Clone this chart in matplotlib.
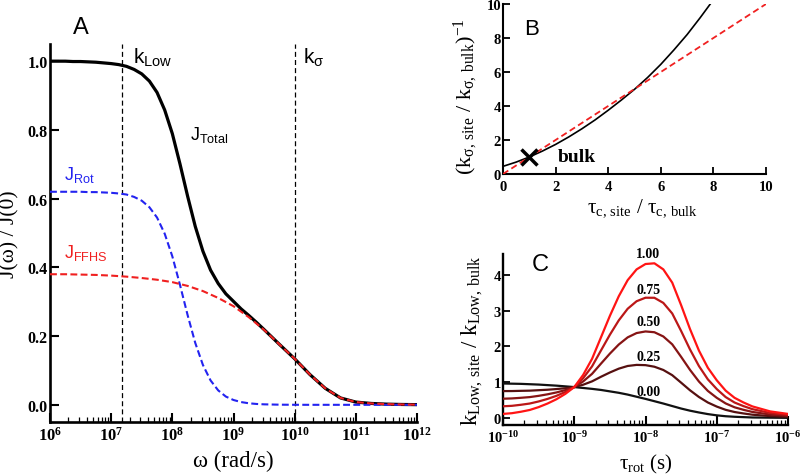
import matplotlib
matplotlib.use("Agg")
import matplotlib.pyplot as plt
import numpy as np
from matplotlib.ticker import FixedLocator, LogLocator, NullFormatter

plt.rcParams['font.family'] = ['Liberation Serif', 'DejaVu Serif']
plt.rcParams['font.weight'] = 'bold'
plt.rcParams['axes.labelweight'] = 'normal'
plt.rcParams['mathtext.fontset'] = 'custom'
plt.rcParams['mathtext.rm'] = 'Liberation Serif'
plt.rcParams['mathtext.it'] = 'Liberation Serif:italic'
plt.rcParams['mathtext.bf'] = 'Liberation Serif:bold'
plt.rcParams['mathtext.sf'] = 'Liberation Sans'

# ---------------- Panel A data ----------------
a_log_omega = [6.0, 6.125, 6.25, 6.375, 6.5, 6.625, 6.75, 6.875, 7.0, 7.125, 7.25, 7.375,
               7.5, 7.625, 7.75, 7.875, 8.0, 8.125, 8.25, 8.375, 8.5, 8.625, 8.75, 8.875,
               9.0, 9.125, 9.25, 9.375, 9.5, 9.75, 10.0, 10.25, 10.5, 10.75, 11.0, 11.25,
               11.5, 11.75, 12.0]
a_j_rot = [0.620, 0.620, 0.620, 0.620, 0.620, 0.619, 0.619, 0.618, 0.617, 0.615, 0.612, 0.605,
           0.594, 0.575, 0.545, 0.498, 0.432, 0.349, 0.261, 0.180, 0.116, 0.071, 0.042, 0.024,
           0.014, 0.008, 0.0045, 0.0025, 0.0014, 0.0004, 0.0001, 0.0, 0.0, 0.0, 0.0, 0.0,
           0.0, 0.0, 0.0]
a_j_total = [1.000, 1.000, 1.000, 0.999, 0.999, 0.998, 0.997, 0.995, 0.993, 0.990, 0.985, 0.976,
             0.963, 0.942, 0.909, 0.858, 0.789, 0.701, 0.607, 0.519, 0.447, 0.392, 0.353, 0.323,
             0.301, 0.279, 0.260, 0.240, 0.219, 0.176, 0.134, 0.088, 0.048, 0.020, 0.008, 0.004,
             0.002, 0.001, 0.0005]
a_log_omega_ffhs = [6.0, 6.25, 6.5, 6.75, 7.0, 7.25, 7.5, 7.75, 8.0, 8.25, 8.5, 8.75, 9.0,
                    9.25, 9.5, 9.75, 10.0, 10.25, 10.5, 10.75, 11.0, 11.25, 11.5, 11.75, 12.0]
a_j_ffhs = [0.380, 0.380, 0.379, 0.378, 0.376, 0.373, 0.369, 0.364, 0.357, 0.346, 0.331, 0.311,
            0.287, 0.255, 0.218, 0.176, 0.134, 0.088, 0.048, 0.020, 0.008, 0.004, 0.002, 0.001,
            0.0005]
a_k_low = 1.5e7
a_k_sigma = 1.0e10
a_yticks = [0.0, 0.2, 0.4, 0.6, 0.8, 1.0]
a_yticklabels = ['0.0', '0.2', '0.4', '0.6', '0.8', '1.0']

# ---------------- Panel B data ----------------
b_tau_ratio = [0.0, 0.5, 1.0, 1.5, 2.0, 2.5, 3.0, 3.5, 4.0, 4.5, 5.0, 5.5, 6.0, 6.5, 7.0, 7.5, 8.0]
b_k_inv = [0.45, 0.70, 1.00, 1.35, 1.74, 2.18, 2.66, 3.18, 3.75, 4.35, 4.98, 5.68, 6.45, 7.30,
           8.20, 9.20, 10.25]
b_line_x = [0.0, 10.0]
b_line_y = [0.0, 10.0]
b_bulk_x = [1.0]
b_bulk_y = [1.0]
b_ticks = [0, 2, 4, 6, 8, 10]

# ---------------- Panel C data ----------------
c_log_tau = [-10.0, -9.875, -9.75, -9.625, -9.5, -9.375, -9.25, -9.125, -9.0, -8.875, -8.75,
             -8.625, -8.5, -8.375, -8.25, -8.125, -8.0, -7.875, -7.75, -7.625, -7.5, -7.375,
             -7.25, -7.125, -7.0, -6.875, -6.75, -6.625, -6.5, -6.25, -6.0]
c_f000 = [0.96, 0.955, 0.95, 0.94, 0.93, 0.915, 0.90, 0.88, 0.86, 0.835, 0.81, 0.78, 0.74, 0.70,
          0.65, 0.59, 0.53, 0.465, 0.40, 0.33, 0.26, 0.20, 0.15, 0.105, 0.07, 0.045, 0.03, 0.02,
          0.01, 0.005, 0.0]
c_f025 = [0.748, 0.749, 0.755, 0.76, 0.773, 0.786, 0.805, 0.828, 0.86, 0.926, 1.02, 1.148, 1.268,
          1.375, 1.45, 1.48, 1.473, 1.429, 1.338, 1.193, 0.983, 0.77, 0.583, 0.429, 0.315, 0.224,
          0.163, 0.123, 0.088, 0.049, 0.028]
c_f050 = [0.535, 0.543, 0.56, 0.58, 0.615, 0.658, 0.71, 0.775, 0.86, 1.018, 1.23, 1.515, 1.795,
          2.05, 2.25, 2.37, 2.415, 2.393, 2.275, 2.055, 1.705, 1.34, 1.015, 0.753, 0.56, 0.403,
          0.295, 0.225, 0.165, 0.093, 0.055]
c_f075 = [0.323, 0.336, 0.365, 0.40, 0.458, 0.529, 0.615, 0.723, 0.86, 1.109, 1.44, 1.883, 2.323,
          2.725, 3.05, 3.26, 3.358, 3.356, 3.213, 2.918, 2.428, 1.91, 1.448, 1.076, 0.805, 0.581,
          0.428, 0.328, 0.243, 0.136, 0.083]
c_f100 = [0.11, 0.13, 0.17, 0.22, 0.30, 0.40, 0.52, 0.67, 0.86, 1.20, 1.65, 2.25, 2.85, 3.40,
          3.85, 4.15, 4.30, 4.32, 4.15, 3.78, 3.15, 2.48, 1.88, 1.40, 1.05, 0.76, 0.56, 0.43,
          0.32, 0.18, 0.11]
c_series = [c_f000, c_f025, c_f050, c_f075, c_f100]
c_labels = ['0.00', '0.25', '0.50', '0.75', '1.00']
c_colors = ['#111111', '#561010', '#861414', '#bb1717', '#ff1414']
c_label_y = [0.73, 1.71, 2.68, 3.58, 4.58]
c_yticks = [0, 1, 2, 3, 4]

# ---------------- Figure ----------------
fig = plt.figure(figsize=(8.0, 4.77), dpi=100)


def style_axes(ax, spine_lw):
    for s in ['top', 'right']:
        ax.spines[s].set_visible(False)
    for s in ['left', 'bottom']:
        ax.spines[s].set_linewidth(spine_lw)
    ax.tick_params(which='both', direction='in', top=False, right=False)


# ---- Panel A ----
axA = fig.add_axes([50 / 800, 1 - 423 / 477, 367 / 800, 378 / 477])
style_axes(axA, 1.9)
axA.set_xscale('log')
axA.set_xlim(1e6, 1e12)
axA.set_ylim(-0.05, 1.05)
omega = np.power(10.0, a_log_omega)
omega_ffhs = np.power(10.0, a_log_omega_ffhs)
axA.axvline(a_k_low, color='black', lw=0.9, ls=(0, (4, 2.5)), zorder=1)
axA.axvline(a_k_sigma, color='black', lw=0.9, ls=(0, (4, 2.5)), zorder=1)
axA.plot(omega, a_j_total, color='black', lw=2.3, zorder=3)
axA.plot(omega, a_j_rot, color='#2323f0', lw=1.5, ls=(0, (3.3, 1.6)), zorder=4)
axA.plot(omega_ffhs, a_j_ffhs, color='#f02020', lw=1.5, ls=(0, (3.3, 1.6)), zorder=5)
axA.yaxis.set_major_locator(FixedLocator(a_yticks))
axA.set_yticklabels(a_yticklabels)
axA.xaxis.set_major_locator(LogLocator(base=10, numticks=20))
axA.xaxis.set_minor_locator(LogLocator(base=10, subs=np.arange(2, 10), numticks=50))
axA.xaxis.set_minor_formatter(NullFormatter())
axA.tick_params(axis='y', which='major', length=6.5, width=1.5, pad=1.5, labelsize=11.5)
axA.tick_params(axis='x', which='major', length=6.5, width=1.5, pad=3, labelsize=12)
axA.tick_params(axis='x', which='minor', length=3.5, width=0.9)
axA.set_xlabel('ω (rad/s)', fontsize=16.5)
axA.xaxis.set_label_coords(0.5, -0.075)
axA.set_ylabel('J(ω) / J(0)', fontsize=15.5)
axA.yaxis.set_label_coords(-0.083, 0.5)

sans = 'Liberation Sans'
axA.text(10 ** 6.51, 1.099, 'A', family=sans, weight='normal', fontsize=17,
         ha='center', va='center', clip_on=False)
axA.text(10 ** 7.356, 0.997, r'$\mathregular{k_{Low}}$', family=sans, weight='normal',
         fontsize=15, ha='left', va='baseline')
axA.text(10 ** 10.134, 0.997, r'$\mathregular{k_{σ}}$', family=[sans, 'DejaVu Sans'],
         weight='normal', fontsize=15, ha='left', va='baseline')
axA.text(10 ** 8.288, 0.773, r'$\mathregular{J_{Total}}$', family=sans, weight='normal',
         fontsize=13, ha='left', va='baseline')
axA.text(10 ** 6.229, 0.657, r'$\mathregular{J_{Rot}}$', family=sans, weight='normal',
         fontsize=13, ha='left', va='baseline', color='#2323f0')
axA.text(10 ** 6.229, 0.430, r'$\mathregular{J_{FFHS}}$', family=sans, weight='normal',
         fontsize=13, ha='left', va='baseline', color='#f02020')

# ---- Panel B ----
axB = fig.add_axes([503 / 800, 1 - 175 / 477, 263 / 800, 170 / 477])
style_axes(axB, 1.5)
axB.set_xlim(0, 10)
axB.set_ylim(0, 10)
axB.plot(b_tau_ratio, b_k_inv, color='black', lw=1.2, zorder=3)
axB.plot(b_line_x, b_line_y, color='#f02020', lw=1.3, ls=(0, (3.5, 2)), zorder=4)
axB.plot(b_bulk_x, b_bulk_y, marker='x', color='black', ms=11, mew=2.5, ls='none',
         zorder=5, clip_on=False)
axB.xaxis.set_major_locator(FixedLocator(b_ticks))
axB.yaxis.set_major_locator(FixedLocator(b_ticks))
axB.tick_params(axis='both', which='major', length=5, width=1.3, labelsize=10.5)
axB.tick_params(axis='y', pad=1.5)
axB.tick_params(axis='x', pad=4)
axB.text(2.09, 0.76, 'bulk', fontsize=14, weight='bold', ha='left', va='baseline')
axB.text(1.10, 8.53, 'B', family=sans, weight='normal', fontsize=16, ha='center', va='center')
axB.set_xlabel(r'$\mathregular{τ_{c,\,site}\ /\ τ_{c,\,bulk}}$', fontsize=15)
axB.xaxis.set_label_coords(0.53, -0.13)
axB.set_ylabel(r'$\mathregular{(k_{σ,\,site}\ /\ k_{σ,\,bulk})^{-1}}$', fontsize=16)
axB.yaxis.set_label_coords(-0.087, 0.46)

# ---- Panel C ----
axC = fig.add_axes([503 / 800, 1 - 426 / 477, 285 / 800, 171 / 477])
style_axes(axC, 1.7)
axC.set_xscale('log')
axC.set_xlim(1e-10, 1e-6)
axC.set_ylim(-0.2, 4.58)
tau = np.power(10.0, c_log_tau)
for vals, col in zip(c_series, c_colors):
    axC.plot(tau, vals, color=col, lw=1.6, zorder=3)
for lab, yy in zip(c_labels, c_label_y):
    axC.text(10 ** -7.96, yy, lab, fontsize=10, weight='bold', ha='center', va='center')
axC.yaxis.set_major_locator(FixedLocator(c_yticks))
axC.xaxis.set_major_locator(LogLocator(base=10, numticks=20))
axC.xaxis.set_minor_locator(LogLocator(base=10, subs=np.arange(2, 10), numticks=50))
axC.xaxis.set_minor_formatter(NullFormatter())
axC.tick_params(axis='y', which='major', length=5, width=1.3, pad=1.5, labelsize=10.5)
axC.tick_params(axis='x', which='major', length=6.5, width=1.5, pad=3, labelsize=10.5)
axC.tick_params(axis='x', which='minor', length=3.5, width=0.9)
axC.text(10 ** -9.48, 4.30, 'C', family=sans, weight='normal', fontsize=17,
         ha='center', va='center')
axC.set_xlabel(r'$\mathregular{τ_{rot}\ (s)}$', fontsize=15)
axC.xaxis.set_label_coords(0.5, -0.155)
axC.set_ylabel(r'$\mathregular{k_{Low,\,site}\ /\ k_{Low,\,bulk}}$', fontsize=16.5)
axC.yaxis.set_label_coords(-0.063, 0.5)

fig.savefig('out.png', dpi=100)
